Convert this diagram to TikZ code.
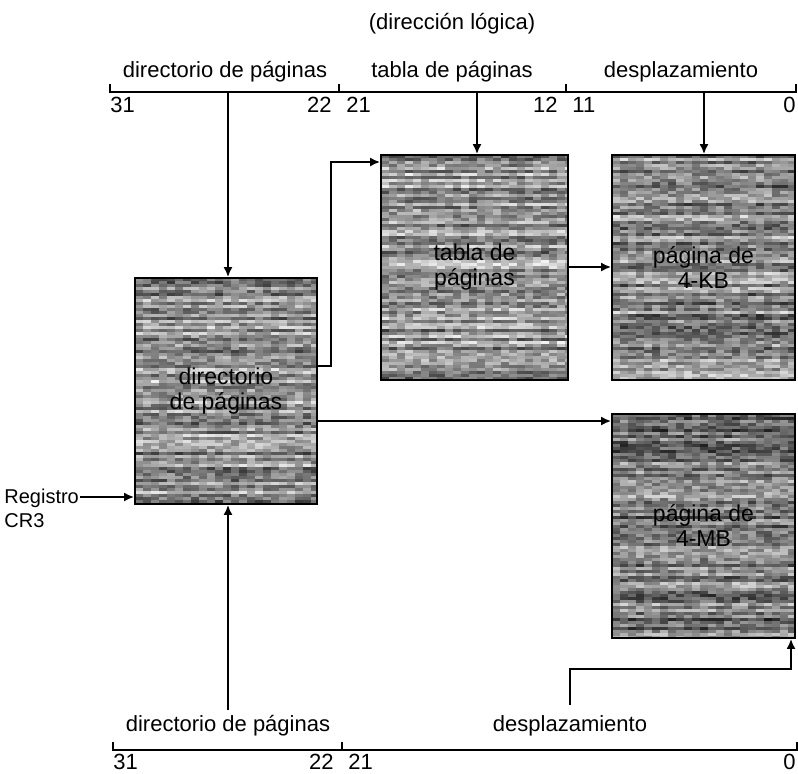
\documentclass[tikz,border=0pt]{standalone}
\usepackage{fontspec}
\setmainfont{Liberation Sans}
\usetikzlibrary{arrows.meta}
\newcommand\htbox[5]{%
  \begin{scope}
    \clip (#1,#2) rectangle (#3,#4);
    \foreach \i in {0,...,76}{%
      \pgfmathrandominteger{\hrb}{5}{45}%
      \foreach \j in {0,...,23}{%
        \pgfmathrandominteger{\hrg}{0}{35}%
        \pgfmathtruncatemacro\hgv{\hrb+\hrg+#5}%
        \fill[black!\hgv] (#1+\j*8,#2+\i*3) rectangle ++(8.4,3.4);
      }%
    }%
  \end{scope}%
}
\begin{document}
\begin{tikzpicture}[x=0.5pt,y=-0.5pt,
  txt/.style={font=\fontsize{11}{12.5}\selectfont, inner sep=0pt},
  ln/.style={line width=0.9pt},
  arr/.style={line width=0.9pt, -{Latex[length=5pt,width=4.5pt]}},
  memb/.style={draw, line width=0.9pt, inner sep=0pt, align=center,
    font=\fontsize{11.5}{12.5}\selectfont}]
\useasboundingbox (0,0) rectangle (798,773);
\pgfmathsetseed{11}
% textures
\htbox{135}{278}{317}{504}{0}
\htbox{381}{155}{568}{380}{0}
\htbox{612}{155}{795}{380}{3}
\htbox{612}{414}{795}{638}{10}
% boxes
\node[memb, minimum width=91pt, minimum height=113pt] (dir) at (226,391) {directorio\\de páginas};
\node[memb, minimum width=93.5pt, minimum height=112.5pt] (tab) at (474.5,267.5) {tabla de\\páginas};
\node[memb, minimum width=91.5pt, minimum height=112.5pt] (p4k) at (703.5,267.5) {página de\\4-KB};
\node[memb, minimum width=91.5pt, minimum height=112pt] (p4m) at (703.5,526) {página de\\4-MB};
% title
\node[txt] (title) at (452,24) {(dirección lógica)};
% top address
\draw[ln] (110,84) -- (110,92) -- (796,92) -- (796,84);
\draw[ln] (339,92) -- (339,84);
\draw[ln] (566,92) -- (566,84);
\node[txt] (tl1) at (225,72) {directorio de páginas};
\node[txt] (tl2) at (452,72) {tabla de páginas};
\node[txt] (tl3) at (681,72) {desplazamiento};
\node[txt, anchor=west] (n31) at (110,105) {31};
\node[txt, anchor=east] (n22) at (332,105) {22};
\node[txt, anchor=west] (n21) at (346,105) {21};
\node[txt, anchor=east] (n12) at (558,105) {12};
\node[txt, anchor=west] (n11) at (572,105) {11};
\node[txt, anchor=east] (n0) at (796,105) {0};
% bottom address
\draw[ln] (113,742) -- (113,750) -- (797,750) -- (797,742);
\draw[ln] (342,750) -- (342,742);
\node[txt] (bl1) at (228,726) {directorio de páginas};
\node[txt] (bl2) at (570,726) {desplazamiento};
\node[txt, anchor=west] (b31) at (113,762) {31};
\node[txt, anchor=east] (b22) at (334,762) {22};
\node[txt, anchor=west] (b21) at (348,762) {21};
\node[txt, anchor=east] (b0) at (796,762) {0};
% CR3
\node[txt, align=left, anchor=west, font=\fontsize{10}{12}\selectfont] (cr3) at (4,508) {Registro\\CR3};
% connectors
\coordinate (t1) at (228,92);
\coordinate (t2) at (477,92);
\coordinate (t3) at (704,92);
\draw[arr] (t1) -- (t1 |- dir.north);
\draw[arr] (t2) -- (t2 |- tab.north);
\draw[arr] (t3) -- (t3 |- p4k.north);
\coordinate (j1) at (331,366);
\coordinate (j2) at (331,162);
\draw[arr] (dir.east |- j1) -- (j1) -- (j2) -- (tab.west |- j2);
\coordinate (j3) at (590,267);
\draw[arr] (tab.east |- j3) -- (p4k.west |- j3);
\coordinate (j4) at (460,421);
\draw[arr] (dir.east |- j4) -- (p4m.west |- j4);
\coordinate (j5) at (80,497);
\draw[arr] (j5) -- (dir.west |- j5);
\coordinate (b1) at (228,710);
\draw[arr] (b1) -- (b1 |- dir.south);
\coordinate (b2) at (570,705);
\coordinate (j6) at (791,669);
\draw[arr] (b2) |- (j6) -- (j6 |- p4m.south);
\end{tikzpicture}
\end{document}
